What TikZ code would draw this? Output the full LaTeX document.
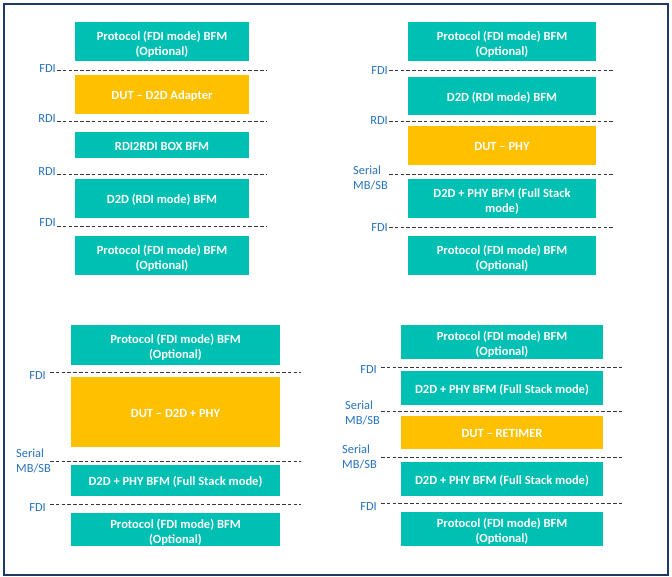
\documentclass[tikz,border=0pt]{standalone}
\usepackage{fontspec}
\setmainfont{Carlito}
\definecolor{teal1}{RGB}{0,191,179}
\definecolor{gold1}{RGB}{255,192,0}
\definecolor{lblue}{RGB}{38,114,190}
\definecolor{navy}{RGB}{31,56,100}
\definecolor{dashc}{RGB}{55,55,55}
\newcommand\mytopstrut{\rule{0pt}{14pt}}
\newcommand\mybotstrut{\rule[-3.5pt]{0pt}{3.5pt}}
\tikzset{
  boxbase/.style={inner sep=1pt, align=center, text=white, font=\fontsize{12.5}{15}\selectfont\bfseries},
  oneline/.style={execute at begin node={\mytopstrut}, execute at end node={\mybotstrut}},
  bfm/.style={boxbase, fill=teal1},
  dutbox/.style={boxbase, oneline, fill=gold1},
  iface/.style={draw=dashc, line width=0.9pt, dash pattern=on 3.6pt off 2.2pt},
  lbl/.style={inner sep=0pt, align=left, text=lblue, font=\fontsize{12.4}{15}\selectfont},
}
\begin{document}
\begin{tikzpicture}[x=1pt,y=-1pt]
\useasboundingbox (0,0) rectangle (672,577);
\draw[navy, line width=1.2pt] (4,4) rectangle (668,575);

% ---------- top-left ----------
\node[bfm, minimum width=174pt, minimum height=39pt] (tl1) at (162,41.5) {\mytopstrut Protocol (FDI mode) BFM\\(Optional)};
\node[dutbox, minimum width=174pt, minimum height=39pt] (tl2) at (162,94.5) {DUT -- D2D Adapter};
\node[bfm, oneline, minimum width=174pt, minimum height=26pt] (tl3) at (162,145) {RDI2RDI BOX BFM};
\node[bfm, oneline, minimum width=174pt, minimum height=39pt] (tl4) at (162,198.5) {D2D (RDI mode) BFM};
\node[bfm, minimum width=174pt, minimum height=39pt] (tl5) at (162,255.5) {\mytopstrut Protocol (FDI mode) BFM\\(Optional)};
\coordinate (tlas) at (57,70);  \coordinate (tlae) at (267,70);
\coordinate (tlbs) at (57,121); \coordinate (tlbe) at (267,121);
\coordinate (tlcs) at (57,174); \coordinate (tlce) at (267,174);
\coordinate (tlds) at (57,226); \coordinate (tlde) at (267,226);
\draw[iface] (tlas) -- (tlae);
\draw[iface] (tlbs) -- (tlbe);
\draw[iface] (tlcs) -- (tlce);
\draw[iface] (tlds) -- (tlde);
\node[lbl, anchor=east] (tlla) at (56,68.5) {FDI};
\node[lbl, anchor=east] (tllb) at (56,118.5) {RDI};
\node[lbl, anchor=east] (tllc) at (56,171.5) {RDI};
\node[lbl, anchor=east] (tlld) at (56,223) {FDI};

% ---------- top-right ----------
\node[bfm, minimum width=188pt, minimum height=39pt] (tr1) at (502,41.5) {\mytopstrut Protocol (FDI mode) BFM\\(Optional)};
\node[bfm, oneline, minimum width=188pt, minimum height=38pt] (tr2) at (502,96) {D2D (RDI mode) BFM};
\node[dutbox, minimum width=188pt, minimum height=39pt] (tr3) at (502,145.5) {DUT -- PHY};
\node[bfm, minimum width=188pt, minimum height=39pt] (tr4) at (502,198.5) {\mytopstrut D2D + PHY BFM (Full Stack\\mode)};
\node[bfm, minimum width=188pt, minimum height=39pt] (tr5) at (502,255.5) {\mytopstrut Protocol (FDI mode) BFM\\(Optional)};
\coordinate (tras) at (389,70);  \coordinate (trae) at (614,70);
\coordinate (trbs) at (389,121); \coordinate (trbe) at (614,121);
\coordinate (trcs) at (389,174); \coordinate (trce) at (614,174);
\coordinate (trds) at (389,227); \coordinate (trde) at (614,227);
\draw[iface] (tras) -- (trae);
\draw[iface] (trbs) -- (trbe);
\draw[iface] (trcs) -- (trce);
\draw[iface] (trds) -- (trde);
\node[lbl, anchor=east] (trla) at (388,70.5) {FDI};
\node[lbl, anchor=east] (trlb) at (388,120.5) {RDI};
\node[lbl, anchor=west] (trlc) at (353,177.5) {Serial\\MB/SB};
\node[lbl, anchor=east] (trld) at (388,227.5) {FDI};

% ---------- bottom-left ----------
\node[bfm, minimum width=209pt, minimum height=40pt] (bl1) at (175.5,345) {\mytopstrut Protocol (FDI mode) BFM\\(Optional)};
\node[dutbox, minimum width=209pt, minimum height=70pt] (bl2) at (175.5,412) {DUT -- D2D + PHY};
\node[bfm, oneline, minimum width=209pt, minimum height=31pt] (bl3) at (175.5,480.5) {D2D + PHY BFM (Full Stack mode)};
\node[bfm, minimum width=209pt, minimum height=33pt] (bl4) at (175.5,529.5) {\mytopstrut Protocol (FDI mode) BFM\\(Optional)};
\coordinate (blas) at (50,372); \coordinate (blae) at (301,372);
\coordinate (blbs) at (50,461); \coordinate (blbe) at (301,461);
\coordinate (blcs) at (50,504); \coordinate (blce) at (301,504);
\draw[iface] (blas) -- (blae);
\draw[iface] (blbs) -- (blbe);
\draw[iface] (blcs) -- (blce);
\node[lbl, anchor=east] (blla) at (46,376) {FDI};
\node[lbl, anchor=west] (bllb) at (16,460.5) {Serial\\MB/SB};
\node[lbl, anchor=east] (bllc) at (46,508) {FDI};

% ---------- bottom-right ----------
\node[bfm, minimum width=202pt, minimum height=34pt] (br1) at (502,342) {\mytopstrut Protocol (FDI mode) BFM\\(Optional)};
\node[bfm, oneline, minimum width=202pt, minimum height=34pt] (br2) at (502,388) {D2D + PHY BFM (Full Stack mode)};
\node[dutbox, minimum width=202pt, minimum height=33pt] (br3) at (502,432.5) {DUT -- RETIMER};
\node[bfm, oneline, minimum width=202pt, minimum height=34pt] (br4) at (502,479) {D2D + PHY BFM (Full Stack mode)};
\node[bfm, minimum width=202pt, minimum height=34pt] (br5) at (502,529) {\mytopstrut Protocol (FDI mode) BFM\\(Optional)};
\coordinate (bras) at (381,367); \coordinate (brae) at (624,367);
\coordinate (brbs) at (381,411); \coordinate (brbe) at (624,411);
\coordinate (brcs) at (381,457); \coordinate (brce) at (624,457);
\coordinate (brds) at (381,503); \coordinate (brde) at (624,503);
\draw[iface] (bras) -- (brae);
\draw[iface] (brbs) -- (brbe);
\draw[iface] (brcs) -- (brce);
\draw[iface] (brds) -- (brde);
\node[lbl, anchor=east] (brla) at (377,370) {FDI};
\node[lbl, anchor=west] (brlb) at (345,412.5) {Serial\\MB/SB};
\node[lbl, anchor=west] (brlc) at (342,456.5) {Serial\\MB/SB};
\node[lbl, anchor=east] (brld) at (377,507) {FDI};
\end{tikzpicture}
\end{document}
